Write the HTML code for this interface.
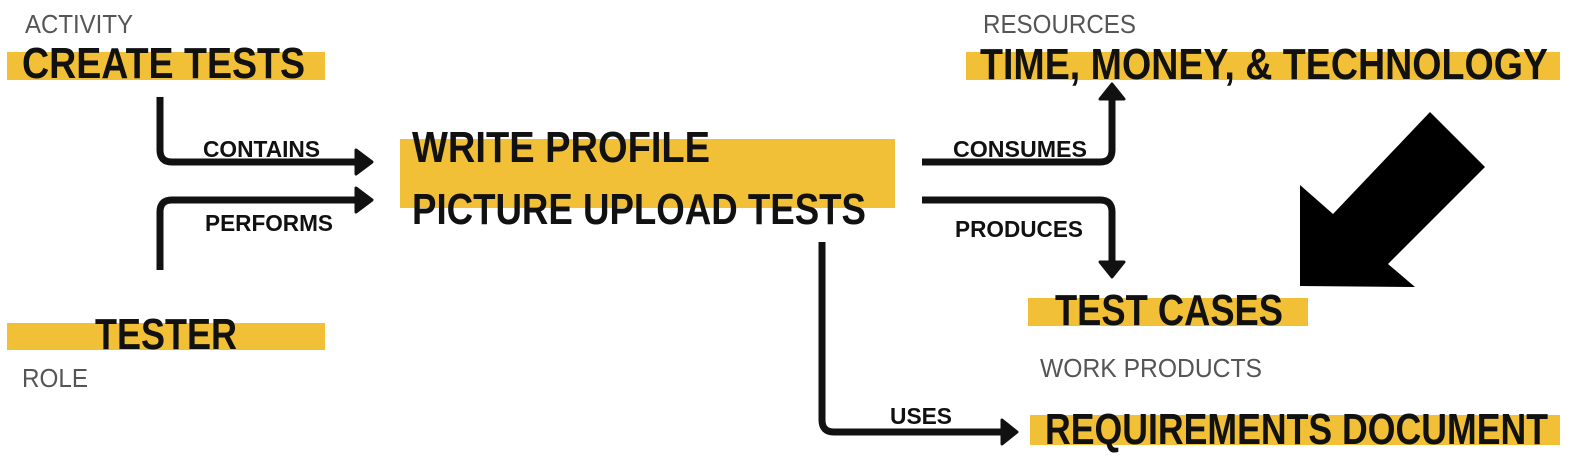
<!DOCTYPE html>
<html><head><meta charset="utf-8"><style>
html,body{margin:0;padding:0;background:#fff;}
svg{display:block;}
.b{font-family:"Liberation Sans Narrow","Liberation Sans",sans-serif;font-weight:bold;fill:#111;}
.l{font-family:"Liberation Sans Narrow","Liberation Sans",sans-serif;fill:#555;}
</style></head><body>
<svg width="1579" height="458" viewBox="0 0 1579 458" xmlns="http://www.w3.org/2000/svg">
<g fill="#f2c037">
<rect x="7" y="52" width="318" height="28"/>
<rect x="7" y="323" width="318" height="27"/>
<rect x="400" y="139" width="495" height="69"/>
<rect x="966" y="52" width="594" height="28"/>
<rect x="1028" y="298" width="280" height="28"/>
<rect x="1030" y="415" width="530" height="30"/>
</g>
<g class="l" font-size="26">
<text x="25" y="33" textLength="108" lengthAdjust="spacingAndGlyphs">ACTIVITY</text>
<text x="22" y="387" textLength="66" lengthAdjust="spacingAndGlyphs">ROLE</text>
<text x="983" y="33" textLength="153" lengthAdjust="spacingAndGlyphs">RESOURCES</text>
<text x="1040" y="377" textLength="222" lengthAdjust="spacingAndGlyphs">WORK PRODUCTS</text>
</g>
<g class="b" font-size="44">
<text x="22" y="78" textLength="283" lengthAdjust="spacingAndGlyphs">CREATE TESTS</text>
<text x="95" y="349" textLength="142" lengthAdjust="spacingAndGlyphs">TESTER</text>
<text x="412" y="162" textLength="298" lengthAdjust="spacingAndGlyphs">WRITE PROFILE</text>
<text x="412" y="224" textLength="454" lengthAdjust="spacingAndGlyphs">PICTURE UPLOAD TESTS</text>
<text x="980" y="79" textLength="568" lengthAdjust="spacingAndGlyphs">TIME, MONEY, &amp; TECHNOLOGY</text>
<text x="1055" y="325" textLength="228" lengthAdjust="spacingAndGlyphs">TEST CASES</text>
<text x="1045" y="444" textLength="503" lengthAdjust="spacingAndGlyphs">REQUIREMENTS DOCUMENT</text>
</g>
<g class="b" font-size="23">
<text x="203" y="157" textLength="117" lengthAdjust="spacingAndGlyphs">CONTAINS</text>
<text x="205" y="231" textLength="128" lengthAdjust="spacingAndGlyphs">PERFORMS</text>
<text x="953" y="157" textLength="134" lengthAdjust="spacingAndGlyphs">CONSUMES</text>
<text x="955" y="237" textLength="128" lengthAdjust="spacingAndGlyphs">PRODUCES</text>
<text x="890" y="424" textLength="62" lengthAdjust="spacingAndGlyphs">USES</text>
</g>
<g fill="none" stroke="#111" stroke-width="7" stroke-linejoin="round">
<path d="M160 97 V150 Q160 162 172 162 H358"/>
<path d="M160 270 V212 Q160 200 172 200 H358"/>
<path d="M922 162 H1100 Q1112 162 1112 150 V97"/>
<path d="M922 200 H1100 Q1112 200 1112 212 V262"/>
<path d="M822 242 V420 Q822 432 834 432 H1002"/>
</g>
<g fill="#111" stroke="#111" stroke-width="3" stroke-linejoin="round">
<polygon points="356,150 372,162 356,174"/>
<polygon points="356,188 372,200 356,212"/>
<polygon points="1100,99 1112,84 1124,99"/>
<polygon points="1100,262 1112,277 1124,262"/>
<polygon points="1002,420 1017,432 1002,444"/>
</g>
<polygon fill="#000" points="1300,286 1300,185 1333,214 1430,112 1485,167 1388,264 1415,287"/>
</svg>
</body></html>
